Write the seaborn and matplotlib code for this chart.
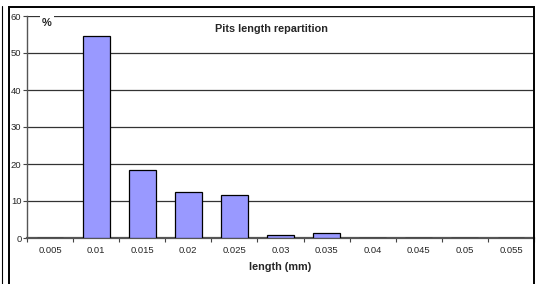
import matplotlib
matplotlib.use('Agg')
import matplotlib.pyplot as plt
import matplotlib.patches as patches
import matplotlib.lines as mlines
import numpy as np
import pandas as pd
import seaborn as sns

lengths = ['0.005', '0.01', '0.015', '0.02', '0.025', '0.03',
           '0.035', '0.04', '0.045', '0.05', '0.055']
percent = [0, 54.6, 18.4, 12.5, 11.6, 0.8, 1.4, 0, 0, 0, 0]
yticks = [0, 10, 20, 30, 40, 50, 60]

sns.set_style('white')
plt.rcParams['font.family'] = ['Liberation Sans', 'DejaVu Sans']

df = pd.DataFrame({'length': lengths, 'percent': percent})

fig = plt.figure(figsize=(5.38, 2.84), dpi=100)
ax = fig.add_axes([27 / 538, 1 - 238 / 284, (534 - 27) / 538, (238 - 16) / 284])

sns.barplot(data=df, x='length', y='percent', order=lengths, color='#9999ff',
            saturation=1, width=0.58, edgecolor='black', linewidth=0.9, ax=ax, zorder=3)

ax.set_ylim(0, 60)
ax.set_xlim(-0.5, len(lengths) - 0.5)
ax.set_yticks(yticks)
ax.yaxis.grid(True, color='#333333', linewidth=0.9)
ax.set_axisbelow(True)
ax.tick_params(axis='y', labelsize=6.8, length=3, width=0.8, color='#444444', pad=1, left=True)
ax.tick_params(axis='x', which='major', labelsize=6.8, length=0, pad=6)
ax.set_xticks(np.arange(-0.5, len(lengths), 1), minor=True)
ax.tick_params(axis='x', which='minor', length=3, width=0.8, color='#444444', bottom=True)

for side in ['top', 'right']:
    ax.spines[side].set_visible(False)
ax.spines['left'].set_color('#555555')
ax.spines['left'].set_linewidth(1.0)
ax.spines['bottom'].set_color('#555555')
ax.spines['bottom'].set_linewidth(1.6)

ax.set_ylabel('')
ax.set_xlabel('length (mm)', fontsize=7.8, fontweight='bold', labelpad=5)
ax.text(0.482, 0.965, 'Pits length repartition', transform=ax.transAxes,
        ha='center', va='top', fontsize=7.8, fontweight='bold')
ax.text(0.039, 0.968, '%', transform=ax.transAxes, ha='center', va='center',
        fontsize=8, fontweight='bold', zorder=5,
        bbox=dict(facecolor='white', edgecolor='none', pad=1.5))

# outer chart frame
fig.patches.append(patches.Rectangle((9 / 538, -0.1), (534 - 9) / 538, 1.1 - 7 / 284,
                                     transform=fig.transFigure, fill=False,
                                     edgecolor='black', linewidth=1.4))
# edge of a neighbouring chart on the left
fig.lines.append(mlines.Line2D([2 / 538, 2 / 538], [0, 1 - 6 / 284],
                               transform=fig.transFigure, color='black', linewidth=0.8))

fig.savefig('out.png', dpi=100)
